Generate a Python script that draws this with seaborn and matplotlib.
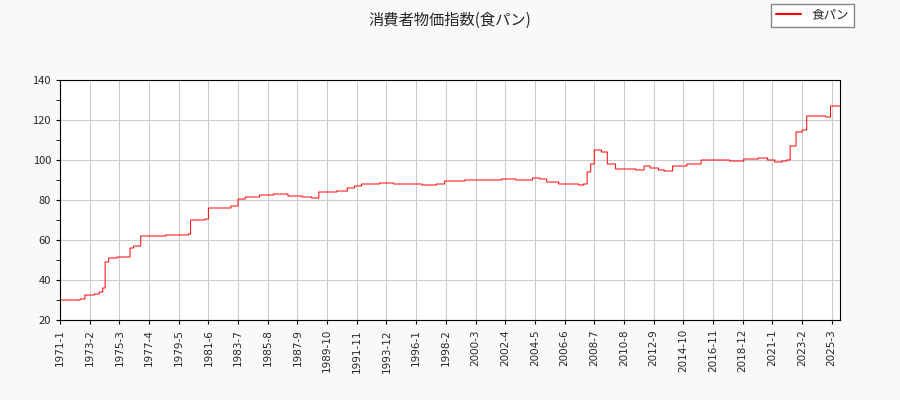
import numpy as np
import pandas as pd
import matplotlib
matplotlib.use("Agg")
import matplotlib.pyplot as plt
import seaborn as sns

# breakpoints: (start month, index level); level held until next breakpoint
bp_months = ["1971-1", "1972-6", "1972-10", "1973-6", "1973-10", "1974-1", "1974-3", "1974-6",
             "1975-1", "1975-12", "1976-3", "1976-9", "1977-6", "1978-6", "1980-1", "1980-3",
             "1981-3", "1981-6", "1983-1", "1983-7", "1984-1", "1985-1", "1986-1", "1987-1",
             "1988-1", "1988-9", "1989-3", "1990-6", "1991-3", "1991-9", "1992-3", "1993-6",
             "1994-6", "1996-6", "1997-6", "1998-1", "1999-6", "2002-1", "2003-1", "2004-3",
             "2004-9", "2005-3", "2006-1", "2007-6", "2007-10", "2008-1", "2008-4", "2008-7",
             "2009-1", "2009-6", "2010-1", "2011-6", "2012-1", "2012-6", "2013-1", "2013-6",
             "2014-1", "2015-1", "2016-1", "2017-1", "2018-1", "2019-1", "2020-1", "2020-9",
             "2021-3", "2021-9", "2022-1", "2022-4", "2022-9", "2023-2", "2023-6", "2024-1",
             "2024-10", "2025-2", "2025-6"]
bp_values = [30, 30.5, 32.5, 33, 34, 36, 49, 51,
             51.5, 56, 57, 62, 62, 62.5, 63, 70,
             70.5, 76, 77, 80.5, 81.5, 82.5, 83, 82,
             81.5, 81, 84, 84.5, 86, 87, 88, 88.5,
             88, 87.5, 88, 89.5, 90, 90.5, 90, 91,
             90.5, 89, 88, 87.5, 88, 94, 98, 105,
             104, 98, 95.5, 95, 97, 96, 95, 94.5,
             97, 98, 100, 100, 99.5, 100.5, 101, 100,
             99, 99.5, 100, 107, 114, 115, 122, 122,
             121.5, 127, 127]
end_month = "2025-10"

idx = pd.period_range("1971-01", end_month, freq="M")
s = pd.Series(np.nan, index=idx)
for m, v in zip(bp_months, bp_values):
    s[pd.Period(m, freq="M")] = v
s = s.ffill()
df = pd.DataFrame({"x": np.arange(len(s)), "value": s.values})

sns.set_style("whitegrid")
plt.rcParams['font.family'] = ['Noto Sans CJK JP', 'DejaVu Sans']

fig = plt.figure(figsize=(9, 4), dpi=100, facecolor="#f9f9f9")
ax = fig.add_axes([60/900, 80/400, 780/900, 240/400])
sns.lineplot(data=df, x="x", y="value", ax=ax, color="red", linewidth=0.7,
             drawstyle="steps-post", label="食パン", legend=False)
ax.set_xlim(0, len(s) - 1)
ax.set_ylim(20, 140)
ax.set_yticks(range(20, 141, 20))
ax.set_yticks(range(20, 141, 10), minor=True)
ticks = list(range(0, len(s), 25))
ax.set_xticks(ticks)
ax.set_xticklabels([f"{idx[t].year}-{idx[t].month}" for t in ticks], rotation=90, fontsize=7.5,
                   family="DejaVu Sans")
ax.tick_params(axis="y", labelsize=8)
ax.tick_params(which="both", length=3, color="black", bottom=True, left=True)
ax.grid(True, color="#cccccc", linewidth=0.8)
for sp in ax.spines.values():
    sp.set_color("black")
    sp.set_linewidth(0.8)
ax.set_xlabel("")
ax.set_ylabel("")
fig.suptitle("消費者物価指数(食パン)", y=0.97, fontsize=11)
h, l = ax.get_legend_handles_labels()
leg = fig.legend(h, l, loc="upper right", bbox_to_anchor=(0.953, 1.0), fontsize=9,
                 fancybox=False, edgecolor="#888888", framealpha=1, borderaxespad=0.3)
for ln in leg.get_lines():
    ln.set_linewidth(1.5)
fig.savefig("out.png", dpi=100, facecolor=fig.get_facecolor())
